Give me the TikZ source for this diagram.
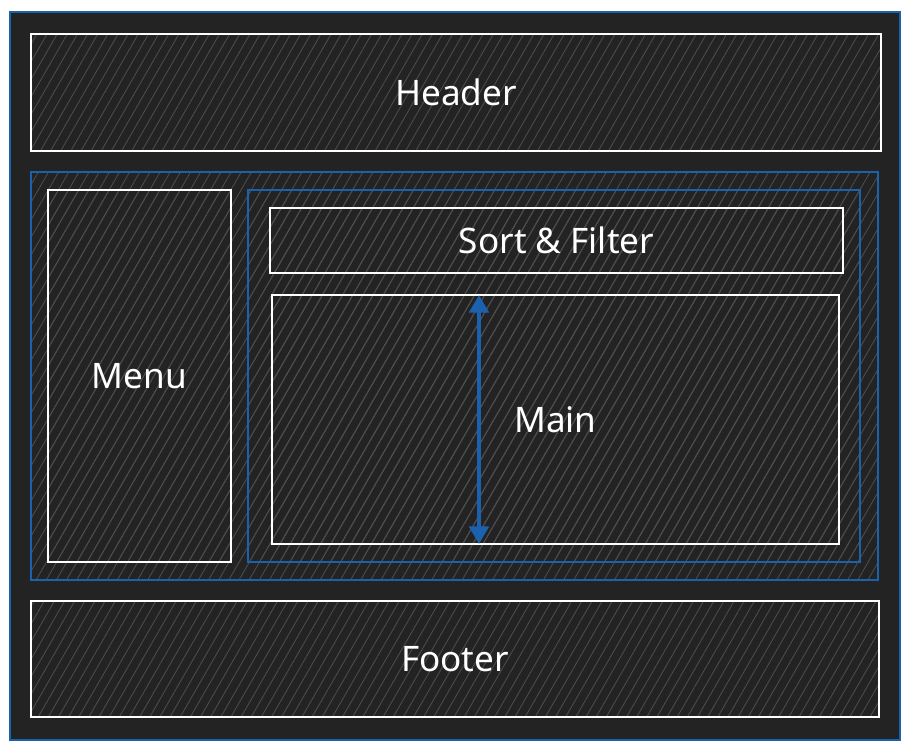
\documentclass[tikz,border=0pt]{standalone}
\usepackage{fontspec}
\setmainfont{Noto Sans}
\usetikzlibrary{arrows.meta}
\usetikzlibrary{patterns.meta}
\definecolor{fondo}{RGB}{35,35,35}
\definecolor{rayas}{RGB}{76,76,76}
\definecolor{azul}{RGB}{26,98,176}
\tikzset{
	caja/.style={draw=white, line width=1.3pt, inner sep=0pt, outer sep=0pt, text=white,
		font=\fontsize{20}{24}\selectfont,
		pattern={Lines[angle=60, distance=5pt, line width=0.5pt]}, pattern color=rayas},
	marco/.style={caja, draw=azul, line width=1.6pt},
	flecha/.style={azul, line width=2.3pt, {Triangle[width=11pt,length=10pt]}-{Triangle[width=11pt,length=10pt]}}
}
\begin{document}
\begin{tikzpicture}[x=0.02cm, y=-0.02cm]
	\useasboundingbox (0,0) rectangle (910,748); %borde de la hoja
	\node[draw=azul, line width=1.6pt, fill=fondo, inner sep=0pt, minimum width=17.8cm, minimum height=14.56cm] (pagina) at (455,376) {}; %fondo oscuro
	\node[caja, minimum width=17cm, minimum height=2.34cm] (header) at (456,92.5) {Header}; %cabecera
	\node[marco, minimum width=16.94cm, minimum height=8.16cm] (cuerpo) at (454.5,376) {}; %contenedor azul
	\node[caja, minimum width=3.66cm, minimum height=7.44cm] (menu) at (139.5,376) {Menu}; %menu lateral
	\node[marco, minimum width=12.24cm, minimum height=7.44cm] (contenido) at (554,376) {}; %contenido azul
	\node[caja, minimum width=11.46cm, minimum height=1.3cm] (filtro) at (556.5,240.5) {Sort \& Filter}; %orden y filtro
	\node[caja, minimum width=11.34cm, minimum height=4.98cm] (main) at (555.5,419.5) {Main}; %zona principal
	\node[caja, minimum width=16.96cm, minimum height=2.32cm] (footer) at (455,659) {Footer}; %pie
	\coordinate (ejeflecha) at (479,0); %x de la flecha
	\draw[flecha] (main.north -| ejeflecha) -- (main.south -| ejeflecha); %altura de main
\end{tikzpicture}
\end{document}
